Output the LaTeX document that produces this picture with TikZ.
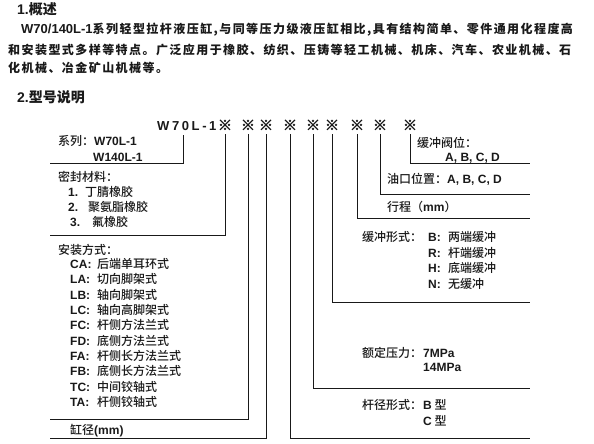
\documentclass[tikz,border=0pt]{standalone}
\usepackage{fontspec}
\setmainfont{Noto Sans CJK SC}
\newfontfamily\latfont{Liberation Sans}
\newfontfamily\lblfont{Noto Sans CJK SC Medium}
\newfontfamily\signfont[FakeBold=2.5]{Noto Sans CJK SC Bold}
\newfontfamily\headfont[LetterSpace=20]{Liberation Sans}
\newfontfamily\parafont[LetterSpace=12]{Noto Sans CJK SC}
\newcommand\lt[1]{{\latfont\bfseries #1}}
\usetikzlibrary{math}
\definecolor{mytext}{RGB}{25,25,25}

\tikzset{
  lbl/.style={anchor=base west, inner sep=0pt, text=mytext, font=\fontsize{12}{14}\selectfont\lblfont},
  para/.style={anchor=base west, inner sep=0pt, text=mytext, font=\fontsize{12}{14}\selectfont\parafont\bfseries},
  title/.style={anchor=base west, inner sep=0pt, text=mytext, font=\fontsize{14}{16}\selectfont\bfseries},
  refsign/.style={inner sep=0pt, text=mytext, font=\fontsize{14}{16}\selectfont\signfont},
  lead/.style={line width=1pt, color=mytext},
}

\begin{document}
\begin{tikzpicture}[x=1pt, y=-1pt]
\tikzmath{
\lx=50;
\rx=530;
\sy=125;
}
\useasboundingbox (0,0) rectangle (594,444);

 %overview
 \node[title] (h1) at (17,15) {{\latfont 1.}概述};
 \node[para] (p1) at (21,34) {{\fontsize{13}{14}\selectfont\latfont W70/140L-1}系列轻型拉杆液压缸,与同等压力级液压缸相比,具有结构简单、零件通用化程度高};
 \node[para] (p2) at (8,55) {和安装型式多样等特点。广泛应用于橡胶、纺织、压铸等轻工机械、机床、汽车、农业机械、石};
 \node[para] (p3) at (8,73) {化机械、冶金矿山机械等。};
 \node[title] (h2) at (17,102) {{\latfont 2.}型号说明};

 %model code
 \node[anchor=base west, inner sep=0pt, text=mytext, font=\fontsize{13}{15}\selectfont\headfont\bfseries] (code) at (157,130) {W70L-1};
 \foreach \x in {225,248,266,290,313,332,357,380,410}
   \node[refsign] (m\x) at (\x,\sy) {※};

 %leaders
 \coordinate (t0) at (183,135);
 \coordinate (e0) at (\lx,163);
 \draw[lead] (t0) |- (e0);
 \foreach \x/\ex/\ey in {225/\lx/235, 248/\lx/419, 266/\lx/438, 290/\rx/438, 313/\rx/388, 332/\rx/302, 357/\rx/218, 380/\rx/194, 410/\rx/163}
 {
   \coordinate (e\x) at (\ex,\ey);
   \draw[lead] ([yshift=-4pt]m\x.south) |- (e\x);
 }

 %left side
 \node[lbl] (xl) at (58,145) {系列：\lt{W70L-1}};
 \node[lbl] (xl2) at (93,161) {\lt{W140L-1}};
 \node[lbl] (mf) at (58,181) {密封材料：};
 \node[lbl] (mf1) at (68,196) {\makebox[17pt][l]{\lt{1.}}丁腈橡胶};
 \node[lbl] (mf2) at (68,211) {\makebox[20pt][l]{\lt{2.}}聚氨脂橡胶};
 \node[lbl] (mf3) at (70,226) {\makebox[22pt][l]{\lt{3.}}氟橡胶};
 \node[lbl] (az) at (58,254) {安装方式：};
 \foreach \c/\t/\y [count=\i] in {CA/后端单耳环式/264, LA/切向脚架式/279, LB/轴向脚架式/295, LC/轴向高脚架式/310, FC/杆侧方法兰式/325, FD/底侧方法兰式/341, FA/杆侧长方法兰式/356, FB/底侧长方法兰式/371, TC/中间铰轴式/387, TA/杆侧铰轴式/402}
   \node[lbl] (az\i) at (70,\y+4) {\makebox[27pt][l]{\lt{\c:}}\t};
 \node[lbl] (gj) at (70,434) {缸径\lt{(mm)}};

 %right side
 \node[lbl] (hf) at (417,147) {缓冲阀位：};
 \node[lbl] (hf1) at (445,161) {\lt{A, B, C, D}};
 \node[lbl] (yk) at (387,183) {油口位置：\lt{A, B, C, D}};
 \node[lbl] (xc) at (387,211) {行程（\lt{mm}）};
 \node[lbl] (hc) at (362,241) {缓冲形式：};
 \foreach \c/\t/\y [count=\i] in {B/两端缓冲/237, R/杆端缓冲/253, H/底端缓冲/268, N/无缓冲/284}
   \node[lbl] (hc\i) at (428,\y+4) {\makebox[20pt][l]{\lt{\c:}}\t};
 \node[lbl] (yl) at (362,357) {额定压力：};
 \node[lbl] (yl1) at (423,357) {\lt{7MPa}};
 \node[lbl] (yl2) at (423,371) {\lt{14MPa}};
 \node[lbl] (gx) at (362,409) {杆径形式：};
 \node[lbl] (gx1) at (423,409) {\lt{B} 型};
 \node[lbl] (gx2) at (423,425) {\lt{C} 型};

\end{tikzpicture}
\end{document}
